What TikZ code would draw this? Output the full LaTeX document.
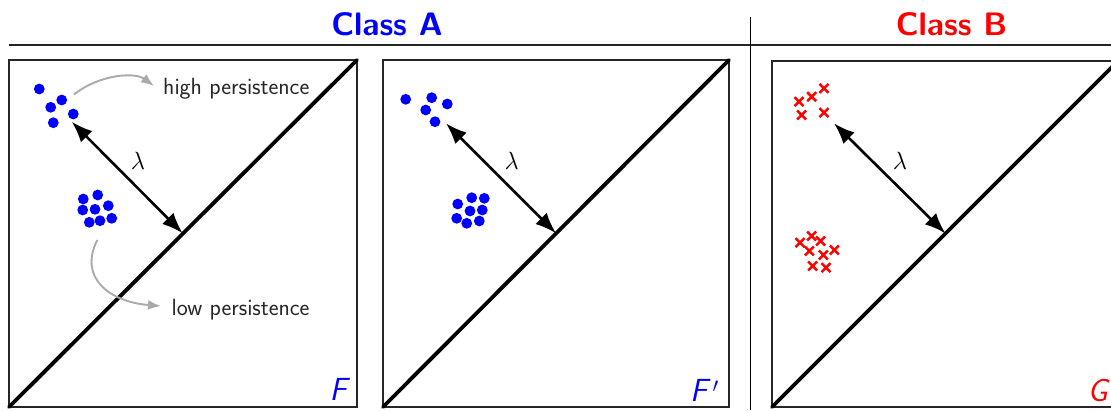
\documentclass[tikz,border=0pt]{standalone}
\usetikzlibrary{arrows.meta}
\definecolor{pgray}{RGB}{170,170,170}
\definecolor{pblue}{RGB}{0,0,255}
\definecolor{pred}{RGB}{255,0,0}
\tikzset{
  panel/.style={draw=black!85, line width=2pt},
  diag/.style={line width=3.8pt, line cap=round},
  lam/.style={line width=2.6pt, {Latex[length=21pt,width=16pt]}-{Latex[length=21pt,width=16pt]}},
  grayarr/.style={draw=pgray, line width=1.9pt, -{Latex[length=13pt,width=10pt]}},
  lbl/.style={inner sep=0pt, font=\sffamily\fontsize{23.4}{27}\selectfont, text=black!85},
  lamlbl/.style={inner sep=0pt, font=\fontsize{39}{44}\selectfont},
  plabel/.style={inner sep=0pt, font=\sffamily\slshape\fontsize{32}{36}\selectfont},
  cls/.style={inner sep=0pt, font=\sffamily\bfseries\fontsize{32.5}{36}\selectfont},
  bdot/.style={fill=pblue},
  rx/.style={draw=pred, line width=2.5pt}
}
\newcommand{\rcross}[2]{\draw[rx] (#1-4.5,#2-4.5) -- (#1+4.5,#2+4.5) (#1-4.5,#2+4.5) -- (#1+4.5,#2-4.5);}
\begin{document}
\begin{tikzpicture}[x=1pt,y=-1pt]
\clip (0,0) rectangle (1111,410);
\fill[white] (0,0) rectangle (1111,410);
% header
\node[cls, text=pblue, anchor=base] (clsA) at (387,35) {Class A};
\node[cls, text=pred, anchor=base] (clsB) at (951.5,35) {Class B};
\coordinate (hl) at (9,45);
\coordinate (hr) at (1111,45);
\draw[line width=2pt, black!85] (hl) -- (hr);
\coordinate (vt) at (750.5,17);
\coordinate (vb) at (750.5,410);
\draw[line width=1.6pt] (vt) -- (vb);

% ---------- panel 1 ----------
\coordinate (p1a) at (9,407);
\coordinate (p1b) at (357,60);
\draw[panel] (9,60) rectangle (357,407);
\draw[diag] (p1a) -- (p1b);
\foreach \x/\y in {39.3/89, 61.7/100, 50.7/107.3, 73.3/114, 53.3/122.7,
  83.3/199, 97.7/195, 82.7/210, 95/209.3, 108.3/205.7, 89.3/222.3, 100/220.7, 111.7/218.3}
  \fill[bdot] (\x,\y) circle (5.4);
\coordinate (l1s) at (71.7,121.7);
\coordinate (l1e) at (182.7,233.3);
\draw[lam] (l1s) -- (l1e);
\node[lamlbl] (lam1) at (138,161) {$\lambda$};
\node[lbl, anchor=base west] (hp) at (163,94) {high persistence};
\node[lbl, anchor=base west] (lp) at (171.5,315) {low persistence};
\coordinate (h1) at (74,94.5);
\coordinate (h2) at (154,86);
\draw[grayarr] (h1) .. controls (100,74) and (135,72) .. (h2);
\coordinate (g1) at (97.3,240);
\coordinate (g2) at (161,306);
\draw[grayarr] (g1) .. controls (78,278) and (110,302) .. (g2);
\node[plabel, text=pblue, anchor=base east] (F) at (347,400) {F};

% ---------- panel 2 ----------
\coordinate (p2a) at (383,407);
\coordinate (p2b) at (729,60);
\draw[panel] (383,60) rectangle (729,407);
\draw[diag] (p2a) -- (p2b);
\foreach \x/\y in {405.7/99.3, 431.7/97.7, 447.3/104, 425.7/110, 435/121.7,
  471.7/197.7, 484.3/198.3, 457.7/204, 470/211, 482.3/210, 456.7/218.3, 466.7/223.3, 479.3/221}
  \fill[bdot] (\x,\y) circle (5.4);
\coordinate (l2s) at (446,123.3);
\coordinate (l2e) at (556,233.3);
\draw[lam] (l2s) -- (l2e);
\node[lamlbl] (lam2) at (511.7,161) {$\lambda$};
\node[plabel, text=pblue, anchor=base east] (Fp) at (719,401.5) {F\,$'$};

% ---------- panel 3 ----------
\coordinate (p3a) at (772,407);
\coordinate (p3b) at (1120,59);
\draw[panel] (772,60.5) rectangle (1125,407);
\draw[diag] (p3a) -- (p3b);
\rcross{824}{88.3}
\rcross{811.7}{96.7}
\rcross{799}{101.7}
\rcross{801.7}{115}
\rcross{824}{112.7}
\rcross{800}{242.7}
\rcross{811.7}{236}
\rcross{820.7}{241}
\rcross{809.3}{251}
\rcross{823.3}{255}
\rcross{834.3}{250}
\rcross{812.7}{266}
\rcross{826}{267.7}
\coordinate (l3s) at (834,123.3);
\coordinate (l3e) at (945.5,233.5);
\draw[lam] (l3s) -- (l3e);
\node[lamlbl] (lam3) at (900,161) {$\lambda$};
\node[plabel, text=pred, anchor=base east] (G) at (1108,401.5) {G};
\end{tikzpicture}
\end{document}
